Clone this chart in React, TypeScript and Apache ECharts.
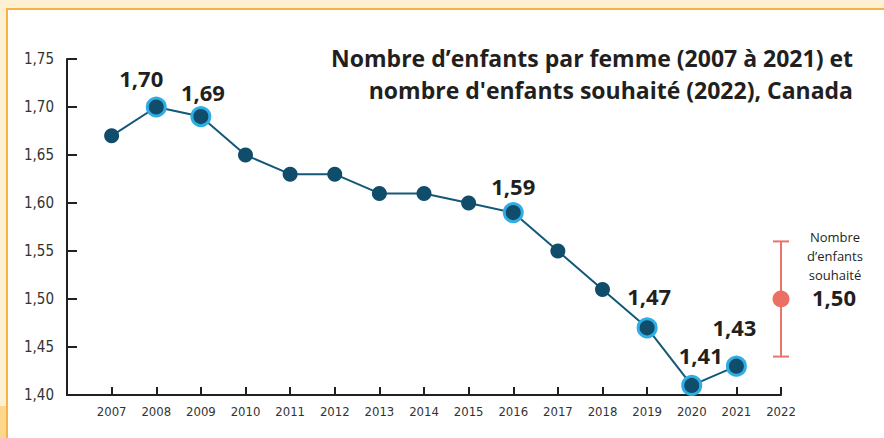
import React, { useEffect, useRef } from "react";
import * as echarts from "echarts";

const years = [2007, 2008, 2009, 2010, 2011, 2012, 2013, 2014, 2015, 2016, 2017, 2018, 2019, 2020, 2021];
const fertility = [1.67, 1.7, 1.69, 1.65, 1.63, 1.63, 1.61, 1.61, 1.6, 1.59, 1.55, 1.51, 1.47, 1.41, 1.43];
const highlightedYears = [2008, 2009, 2016, 2019, 2020, 2021];
const wishYear = 2022;
const wishValue = 1.5;
const wishLow = 1.44;
const wishHigh = 1.56;
const titleLines = ["Nombre d’enfants par femme (2007 à 2021) et", "nombre d'enfants souhaité (2022), Canada"];
const wishLabelLines = ["Nombre", "d’enfants", "souhaité"];

const labelOffsets: Record<number, [number, number]> = {
  2008: [-15, -29],
  2009: [2, -25],
  2016: [0, -27],
  2019: [2, -32],
  2020: [9, -30],
  2021: [-2, -39],
};

const fmt = (v: number) => v.toFixed(2).replace(".", ",");

export default function App() {
  const ref = useRef<HTMLDivElement>(null);
  useEffect(() => {
    if (!ref.current) return;
    const chart = echarts.init(ref.current, undefined, { renderer: "svg" });
    const axisColor = "#231f20";
    const narrow = '"Liberation Sans Narrow", "DejaVu Sans Condensed", sans-serif';
    const lineData = years.map((y, i) => {
      const hl = highlightedYears.includes(y);
      const item: any = { value: [y, fertility[i]] };
      if (hl) {
        item.symbolSize = 18;
        item.itemStyle = { color: "#0f4d6b", borderColor: "#2eaee4", borderWidth: 3 };
        item.label = {
          show: true,
          position: "inside",
          offset: labelOffsets[y] || [0, -28],
          formatter: () => fmt(fertility[i]),
          color: "#231f20",
          fontSize: 22,
          fontWeight: "bold",
          fontFamily: '"Open Sans", sans-serif',
          textBorderWidth: 0,
        };
      }
      return item;
    });
    chart.setOption({
      animation: false,
      backgroundColor: "#fdf0d3",
      grid: { left: 67, right: 103, top: 59, bottom: 43 },
      graphic: [
        { type: "rect", z: -10, shape: { x: 8, y: 10, width: 876, height: 428 }, style: { fill: "#ffffff" } },
        { type: "rect", z: -9, shape: { x: 0, y: 406, width: 6, height: 32 }, style: { fill: "#fcd78c" } },
        { type: "line", z: -8, shape: { x1: 7, y1: 9, x2: 884, y2: 9 }, style: { stroke: "#f8b146", lineWidth: 2 } },
        { type: "line", z: -8, shape: { x1: 7, y1: 8, x2: 7, y2: 438 }, style: { stroke: "#f8b146", lineWidth: 2 } },
        {
          type: "text",
          x: 853,
          y: 42,
          style: {
            text: titleLines.join("\n"),
            align: "right",
            font: 'bold 23px "Open Sans", sans-serif',
            lineHeight: 32,
            fill: "#231f20",
          },
        },
        {
          type: "text",
          x: 835,
          y: 227,
          style: {
            text: wishLabelLines.join("\n"),
            align: "center",
            font: '13px "Open Sans", sans-serif',
            lineHeight: 19,
            fill: "#231f20",
          },
        },
        {
          type: "text",
          x: 834,
          y: 286,
          style: {
            text: fmt(wishValue),
            align: "center",
            font: 'bold 22px "Open Sans", sans-serif',
            fill: "#231f20",
          },
        },
      ],
      xAxis: {
        type: "value",
        min: 2006,
        max: 2022,
        interval: 1,
        axisLine: { show: true, lineStyle: { color: axisColor, width: 2 } },
        axisTick: { show: true, inside: true, length: 8, lineStyle: { color: axisColor, width: 2 } },
        axisLabel: {
          formatter: (v: number) => (v === 2006 ? "" : String(v)),
          color: "#333",
          fontSize: 13,
          fontFamily: narrow,
          margin: 10,
        },
        splitLine: { show: false },
      },
      yAxis: {
        type: "value",
        min: 1.4,
        max: 1.75,
        interval: 0.05,
        axisLine: { show: true, lineStyle: { color: axisColor, width: 2 } },
        axisTick: { show: true, inside: true, length: 10, lineStyle: { color: axisColor, width: 2 } },
        axisLabel: {
          formatter: (v: number) => fmt(v),
          color: "#333",
          fontSize: 15,
          fontFamily: narrow,
          margin: 13,
        },
        splitLine: { show: false },
      },
      series: [
        {
          type: "line",
          data: lineData,
          symbol: "circle",
          symbolSize: 15,
          lineStyle: { color: "#145878", width: 2 },
          itemStyle: { color: "#0f4d6b" },
          clip: false,
          z: 3,
        },
        {
          type: "custom",
          clip: false,
          data: [[wishYear, wishLow, wishHigh]],
          renderItem: (_params: any, api: any) => {
            const lo = api.coord([api.value(0), api.value(1)]);
            const hi = api.coord([api.value(0), api.value(2)]);
            const style = { stroke: "#e8756b", lineWidth: 2 };
            return {
              type: "group",
              children: [
                { type: "line", shape: { x1: lo[0], y1: lo[1], x2: hi[0], y2: hi[1] }, style },
                { type: "line", shape: { x1: lo[0] - 8, y1: lo[1], x2: lo[0] + 8, y2: lo[1] }, style },
                { type: "line", shape: { x1: hi[0] - 8, y1: hi[1], x2: hi[0] + 8, y2: hi[1] }, style },
              ],
            };
          },
          z: 2,
        },
        {
          type: "scatter",
          data: [[wishYear, wishValue]],
          symbolSize: 17,
          itemStyle: { color: "#ec6f63", opacity: 1 },
          clip: false,
          z: 4,
        },
      ],
    });
    return () => chart.dispose();
  }, []);
  return (
    <div
      ref={ref}
      style={{ position: "fixed", left: 0, top: 0, width: 884, height: 438 }}
    />
  );
}
